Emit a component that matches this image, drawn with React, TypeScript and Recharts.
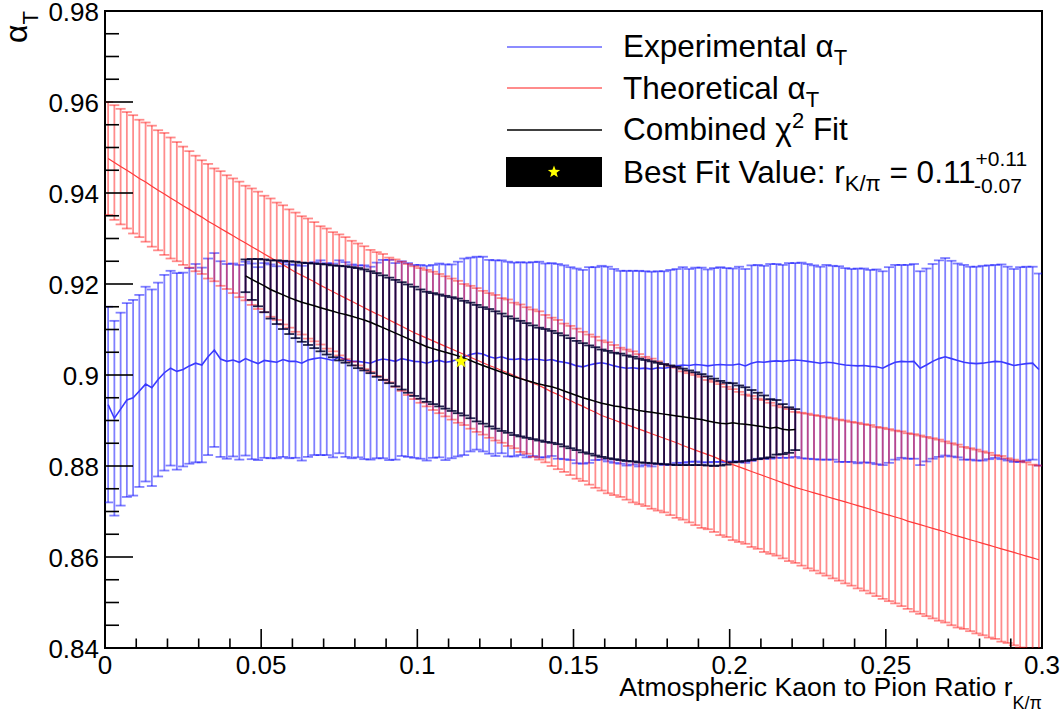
import React from "react";
import { ComposedChart, Line, ErrorBar, XAxis, YAxis, Scatter, ReferenceArea } from "recharts";

// ---------- data ----------
const BIN_START = 0.001;
const BIN_STEP = 0.002;
const BLACK_START = 0.045;

const X_MAJOR = [0, 0.05, 0.1, 0.15, 0.2, 0.25, 0.3];
const X_TICKS = [0, 0.01, 0.02, 0.03, 0.04, 0.05, 0.06, 0.07, 0.08, 0.09, 0.1, 0.11, 0.12, 0.13, 0.14, 0.15, 0.16, 0.17, 0.18, 0.19, 0.2, 0.21, 0.22, 0.23, 0.24, 0.25, 0.26, 0.27, 0.28, 0.29, 0.3];
const Y_MAJOR = [0.84, 0.86, 0.88, 0.9, 0.92, 0.94, 0.96, 0.98];
const Y_TICKS = [0.84, 0.845, 0.85, 0.855, 0.86, 0.865, 0.87, 0.875, 0.88, 0.885, 0.89, 0.895, 0.9, 0.905, 0.91, 0.915, 0.92, 0.925, 0.93, 0.935, 0.94, 0.945, 0.95, 0.955, 0.96, 0.965, 0.97, 0.975, 0.98];

const EXP_CENTER = [
  0.8935, 0.8905, 0.8925, 0.8945, 0.8950, 0.8965, 0.8980, 0.8972, 0.8990, 0.9005,
  0.9015, 0.9008, 0.9012, 0.9020, 0.9026, 0.9022, 0.9040, 0.9055, 0.9035, 0.9030,
  0.9033, 0.9028, 0.9036, 0.9030, 0.9025, 0.9032, 0.9030, 0.9028, 0.9034, 0.9030,
  0.9030, 0.9026, 0.9033, 0.9036, 0.9038, 0.9035, 0.9032, 0.9040, 0.9034, 0.9030,
  0.9030, 0.9028, 0.9026, 0.9032, 0.9035, 0.9033, 0.9030, 0.9036, 0.9033, 0.9030,
  0.9029, 0.9026, 0.9030, 0.9032, 0.9028, 0.9030, 0.9035, 0.9040, 0.9045, 0.9048,
  0.9046, 0.9040, 0.9037, 0.9040, 0.9035, 0.9034, 0.9036, 0.9033, 0.9035, 0.9034,
  0.9032, 0.9034, 0.9030, 0.9028, 0.9025, 0.9020, 0.9018, 0.9022, 0.9025, 0.9027,
  0.9024, 0.9020, 0.9017, 0.9015, 0.9016, 0.9014, 0.9015, 0.9013, 0.9016, 0.9015,
  0.9017, 0.9020, 0.9022, 0.9021, 0.9023, 0.9022, 0.9020, 0.9022, 0.9023, 0.9022,
  0.9022, 0.9024, 0.9020, 0.9026, 0.9029, 0.9028, 0.9030, 0.9031, 0.9030, 0.9032,
  0.9033, 0.9032, 0.9030, 0.9028, 0.9026, 0.9028, 0.9027, 0.9024, 0.9022, 0.9021,
  0.9020, 0.9021, 0.9019, 0.9018, 0.9015, 0.9022, 0.9028, 0.9030, 0.9029, 0.9030,
  0.9015, 0.9022, 0.9030, 0.9036, 0.9040, 0.9036, 0.9032, 0.9028, 0.9026, 0.9025,
  0.9026, 0.9028, 0.9030, 0.9029, 0.9025, 0.9021, 0.9023, 0.9025, 0.9026, 0.9012,
];
const EXP_ERR = [
  0.0215, 0.0214, 0.0212, 0.0213, 0.0215, 0.0211, 0.0214, 0.0216, 0.0213, 0.0215,
  0.0214, 0.0216, 0.0213, 0.0215, 0.0218, 0.0214, 0.0216, 0.0213, 0.0215, 0.0214,
  0.0212, 0.0214, 0.0213, 0.0215, 0.0212, 0.0214, 0.0213, 0.0211, 0.0214, 0.0213,
  0.0212, 0.0214, 0.0213, 0.0212, 0.0214, 0.0211, 0.0213, 0.0212, 0.0214, 0.0213,
  0.0211, 0.0213, 0.0212, 0.0215, 0.0218, 0.0220, 0.0216, 0.0214, 0.0213, 0.0212,
  0.0213, 0.0214, 0.0212, 0.0213, 0.0215, 0.0213, 0.0214, 0.0216, 0.0213, 0.0212,
  0.0214, 0.0213, 0.0215, 0.0212, 0.0214, 0.0213, 0.0212, 0.0214, 0.0213, 0.0215,
  0.0213, 0.0212, 0.0214, 0.0213, 0.0212, 0.0214, 0.0213, 0.0215, 0.0212, 0.0213,
  0.0214, 0.0213, 0.0212, 0.0214, 0.0213, 0.0215, 0.0213, 0.0214, 0.0212, 0.0213,
  0.0214, 0.0213, 0.0215, 0.0212, 0.0213, 0.0214, 0.0212, 0.0213, 0.0214, 0.0213,
  0.0212, 0.0214, 0.0213, 0.0215, 0.0213, 0.0212, 0.0214, 0.0213, 0.0212, 0.0214,
  0.0213, 0.0215, 0.0214, 0.0213, 0.0212, 0.0214, 0.0213, 0.0215, 0.0213, 0.0212,
  0.0214, 0.0213, 0.0212, 0.0214, 0.0213, 0.0215, 0.0214, 0.0212, 0.0213, 0.0214,
  0.0213, 0.0212, 0.0214, 0.0216, 0.0217, 0.0215, 0.0213, 0.0214, 0.0212, 0.0213,
  0.0214, 0.0213, 0.0212, 0.0214, 0.0213, 0.0212, 0.0214, 0.0213, 0.0212, 0.0211,
];

const THEO_CENTER = [
  0.9476, 0.9467, 0.9458, 0.9450, 0.9441, 0.9432, 0.9424, 0.9415, 0.9406, 0.9398,
  0.9389, 0.9381, 0.9372, 0.9364, 0.9355, 0.9347, 0.9338, 0.9330, 0.9322, 0.9314,
  0.9306, 0.9298, 0.9290, 0.9282, 0.9274, 0.9266, 0.9258, 0.9250, 0.9242, 0.9234,
  0.9226, 0.9219, 0.9212, 0.9205, 0.9197, 0.9190, 0.9183, 0.9176, 0.9169, 0.9162,
  0.9155, 0.9148, 0.9141, 0.9134, 0.9128, 0.9121, 0.9114, 0.9107, 0.9100, 0.9093,
  0.9087, 0.9081, 0.9075, 0.9069, 0.9063, 0.9057, 0.9051, 0.9045, 0.9039, 0.9033,
  0.9027, 0.9021, 0.9016, 0.9010, 0.9005, 0.8999, 0.8993, 0.8988, 0.8982, 0.8977,
  0.8970, 0.8963, 0.8957, 0.8950, 0.8944, 0.8937, 0.8931, 0.8924, 0.8918, 0.8911,
  0.8906, 0.8901, 0.8896, 0.8891, 0.8886, 0.8881, 0.8876, 0.8871, 0.8866, 0.8861,
  0.8856, 0.8851, 0.8845, 0.8840, 0.8835, 0.8830, 0.8825, 0.8820, 0.8814, 0.8809,
  0.8803, 0.8798, 0.8793, 0.8788, 0.8783, 0.8778, 0.8773, 0.8768, 0.8763, 0.8758,
  0.8753, 0.8749, 0.8745, 0.8741, 0.8737, 0.8733, 0.8729, 0.8725, 0.8721, 0.8717,
  0.8713, 0.8709, 0.8705, 0.8700, 0.8696, 0.8692, 0.8688, 0.8684, 0.8679, 0.8675,
  0.8671, 0.8667, 0.8663, 0.8659, 0.8655, 0.8650, 0.8646, 0.8642, 0.8638, 0.8634,
  0.8630, 0.8626, 0.8622, 0.8618, 0.8614, 0.8610, 0.8606, 0.8602, 0.8598, 0.8594,
];
const THEO_ERR = [
  0.0124, 0.0126, 0.0127, 0.0128, 0.0130, 0.0129, 0.0131, 0.0133, 0.0132, 0.0134,
  0.0133, 0.0131, 0.0130, 0.0128, 0.0127, 0.0125, 0.0126, 0.0124, 0.0126, 0.0125,
  0.0126, 0.0127, 0.0126, 0.0128, 0.0129, 0.0128, 0.0130, 0.0129, 0.0131, 0.0130,
  0.0131, 0.0130, 0.0132, 0.0131, 0.0130, 0.0132, 0.0131, 0.0133, 0.0134, 0.0133,
  0.0134, 0.0135, 0.0134, 0.0136, 0.0138, 0.0137, 0.0140, 0.0142, 0.0144, 0.0146,
  0.0148, 0.0150, 0.0152, 0.0153, 0.0154, 0.0155, 0.0156, 0.0155, 0.0157, 0.0158,
  0.0158, 0.0159, 0.0160, 0.0159, 0.0161, 0.0160, 0.0162, 0.0161, 0.0162, 0.0163,
  0.0162, 0.0163, 0.0164, 0.0163, 0.0164, 0.0165, 0.0164, 0.0165, 0.0166, 0.0165,
  0.0166, 0.0165, 0.0164, 0.0165, 0.0166, 0.0165, 0.0164, 0.0165, 0.0164, 0.0163,
  0.0164, 0.0165, 0.0163, 0.0164, 0.0165, 0.0166, 0.0164, 0.0165, 0.0166, 0.0165,
  0.0166, 0.0165, 0.0164, 0.0166, 0.0165, 0.0167, 0.0166, 0.0165, 0.0166, 0.0167,
  0.0166, 0.0168, 0.0170, 0.0171, 0.0173, 0.0174, 0.0176, 0.0177, 0.0179, 0.0180,
  0.0182, 0.0183, 0.0185, 0.0186, 0.0188, 0.0189, 0.0190, 0.0192, 0.0193, 0.0195,
  0.0196, 0.0197, 0.0198, 0.0199, 0.0199, 0.0200, 0.0201, 0.0200, 0.0201, 0.0202,
  0.0202, 0.0203, 0.0202, 0.0204, 0.0203, 0.0204, 0.0205, 0.0206, 0.0205, 0.0207,
];

const FIT_CENTER = [
  0.9218, 0.9210, 0.9203, 0.9196, 0.9188, 0.9182, 0.9176, 0.9170, 0.9165, 0.9160,
  0.9156, 0.9152, 0.9148, 0.9144, 0.9140, 0.9136, 0.9133, 0.9129, 0.9125, 0.9121,
  0.9116, 0.9110, 0.9104, 0.9098, 0.9092, 0.9086, 0.9080, 0.9074, 0.9068, 0.9062,
  0.9058, 0.9054, 0.9050, 0.9046, 0.9042, 0.9037, 0.9032, 0.9026, 0.9021, 0.9016,
  0.9011, 0.9006, 0.9001, 0.8996, 0.8992, 0.8988, 0.8984, 0.8980, 0.8977, 0.8974,
  0.8970, 0.8965, 0.8960, 0.8955, 0.8950, 0.8946, 0.8942, 0.8938, 0.8935, 0.8932,
  0.8930, 0.8927, 0.8925, 0.8922, 0.8920, 0.8918, 0.8916, 0.8914, 0.8912, 0.8910,
  0.8908, 0.8906, 0.8904, 0.8902, 0.8899, 0.8896, 0.8894, 0.8893, 0.8895, 0.8893,
  0.8892, 0.8890, 0.8888, 0.8886, 0.8883, 0.8885, 0.8881, 0.8879, 0.8880,
];
const FIT_ERR = [
  0.0036, 0.0045, 0.0052, 0.0058, 0.0064, 0.0070, 0.0075, 0.0080, 0.0084, 0.0087,
  0.0090, 0.0093, 0.0096, 0.0099, 0.0101, 0.0104, 0.0106, 0.0108, 0.0110, 0.0111,
  0.0112, 0.0114, 0.0115, 0.0116, 0.0117, 0.0118, 0.0119, 0.0120, 0.0120, 0.0121,
  0.0122, 0.0123, 0.0124, 0.0125, 0.0126, 0.0126, 0.0127, 0.0128, 0.0128, 0.0129,
  0.0129, 0.0129, 0.0128, 0.0128, 0.0127, 0.0126, 0.0125, 0.0124, 0.0124, 0.0123,
  0.0122, 0.0122, 0.0121, 0.0120, 0.0120, 0.0119, 0.0119, 0.0118, 0.0118, 0.0117,
  0.0117, 0.0116, 0.0115, 0.0114, 0.0113, 0.0112, 0.0111, 0.0110, 0.0109, 0.0108,
  0.0106, 0.0104, 0.0102, 0.0100, 0.0098, 0.0096, 0.0093, 0.0090, 0.0087, 0.0084,
  0.0081, 0.0077, 0.0073, 0.0069, 0.0064, 0.0060, 0.0055, 0.0050, 0.0045,
];

const BEST_FIT = [{ x: 0.114, y: 0.903 }];

// ---------- tables for the library ----------
const r4 = (v: number) => Math.round(v * 10000) / 10000;
const expData = EXP_CENTER.map((y, i) => ({ x: r4(BIN_START + i * BIN_STEP), y, e: EXP_ERR[i] }));
const theoData = THEO_CENTER.map((y, i) => ({ x: r4(BIN_START + i * BIN_STEP), y, e: THEO_ERR[i] }));
const fitData = FIT_CENTER.map((y, i) => ({ x: r4(BLACK_START + i * BIN_STEP), y, e: FIT_ERR[i] }));

// ---------- style ----------
const FONT = "'Liberation Sans', Arial, Helvetica, sans-serif";
const W = 1064;
const H = 713;
const PL = 105;
const PR = 1042;
const PT = 11;
const PB = 648;

const isMajor = (v: number, list: number[]) => list.some((m) => Math.abs(m - v) < 1e-9);
const fmt = (v: number) => String(Number(v.toFixed(3)));

const YTick = (props: any) => {
  const { y, payload } = props;
  const major = isMajor(payload.value, Y_MAJOR);
  return (
    <g>
      <line x1={PL} x2={PL + (major ? 28 : 14)} y1={y} y2={y} stroke="#000" strokeWidth={1.6} />
      {major && (
        <text x={99} y={y + 10} textAnchor="end" fontSize={26} fontFamily={FONT} fill="#000">
          {fmt(payload.value)}
        </text>
      )}
    </g>
  );
};

const XTick = (props: any) => {
  const { x, payload } = props;
  const major = isMajor(payload.value, X_MAJOR);
  return (
    <g>
      <line x1={x} x2={x} y1={PB} y2={PB - (major ? 19 : 9.5)} stroke="#000" strokeWidth={1.6} />
      {major && (
        <text x={x} y={674} textAnchor="middle" fontSize={26} fontFamily={FONT} fill="#000">
          {fmt(payload.value)}
        </text>
      )}
    </g>
  );
};

const starPoints = (cx: number, cy: number, R: number) => {
  const pts: string[] = [];
  for (let k = 0; k < 10; k++) {
    const rad = k % 2 === 0 ? R : R * 0.42;
    const a = -Math.PI / 2 + (k * Math.PI) / 5;
    pts.push(`${cx + rad * Math.cos(a)},${cy + rad * Math.sin(a)}`);
  }
  return pts.join(" ");
};

const StarShape = (props: any) => {
  const { cx, cy } = props;
  return <polygon points={starPoints(cx, cy, 7)} fill="#ffff00" stroke="#e0e000" strokeWidth={0.5} />;
};

const CSS = `.recharts-errorBars, .recharts-errorBar { clip-path: url(#plotClip); }`;

export default function App() {
  return (
    <div style={{ position: "absolute", left: 0, top: 0, width: W, height: H, background: "#fff", fontFamily: FONT }}>
      <style>{CSS}</style>
      <svg width={0} height={0} style={{ position: "absolute" }}>
        <defs>
          <clipPath id="plotClip" clipPathUnits="userSpaceOnUse">
            <rect x={PL} y={PT} width={PR - PL} height={PB - PT} />
          </clipPath>
        </defs>
      </svg>
      <ComposedChart width={W} height={H} margin={{ top: PT, right: W - PR, bottom: H - PB - 1, left: PL - 1 }}>
        <XAxis
          type="number"
          dataKey="x"
          domain={[0, 0.3]}
          ticks={X_TICKS}
          interval={0}
          allowDataOverflow
          axisLine={false}
          tickLine={false}
          height={1}
          tick={(p: any) => <XTick {...p} />}
        />
        <YAxis
          type="number"
          domain={[0.84, 0.98]}
          ticks={Y_TICKS}
          interval={0}
          allowDataOverflow
          axisLine={false}
          tickLine={false}
          width={1}
          tick={(p: any) => <YTick {...p} />}
        />
        <Line data={expData} dataKey="y" stroke="#3a3aff" strokeWidth={1.6} dot={false} isAnimationActive={false}>
          <ErrorBar dataKey="e" direction="y" width={5} stroke="#0000ff" strokeOpacity={0.5} strokeWidth={1.8} isAnimationActive={false} />
        </Line>
        <Line data={theoData} dataKey="y" stroke="#ff3a3a" strokeWidth={1.2} dot={false} isAnimationActive={false}>
          <ErrorBar dataKey="e" direction="y" width={5} stroke="#ff0000" strokeOpacity={0.45} strokeWidth={1.8} isAnimationActive={false} />
        </Line>
        <Line data={fitData} dataKey="y" stroke="#000" strokeWidth={1.5} dot={false} isAnimationActive={false}>
          <ErrorBar dataKey="e" direction="y" width={5} stroke="#000030" strokeOpacity={0.85} strokeWidth={1.8} isAnimationActive={false} />
        </Line>
        <Scatter data={BEST_FIT} dataKey="y" shape={(p: any) => <StarShape {...p} />} isAnimationActive={false} />
        <ReferenceArea x1={0} x2={0.3} y1={0.84} y2={0.98} fill="none" stroke="#000" strokeWidth={2} ifOverflow="visible" />
      </ComposedChart>

      <svg width={W} height={H} style={{ position: "absolute", left: 0, top: 0, pointerEvents: "none" }} fontFamily={FONT}>
        {/* y-axis title */}
        <text transform="translate(27,11) rotate(-90)" textAnchor="end" fontSize={32} fill="#000">
          α<tspan fontSize={22} dy={11}>T</tspan>
        </text>
        {/* x-axis title */}
        <text x={1042} y={696} textAnchor="end" fontSize={26.6} fill="#000">
          Atmospheric Kaon to Pion Ratio r<tspan fontSize={18} dy={13}>K/π</tspan>
        </text>
        {/* legend */}
        <line x1={507} x2={602} y1={47} y2={47} stroke="#6666ff" strokeWidth={1.5} />
        <line x1={507} x2={602} y1={88} y2={88} stroke="#ff6666" strokeWidth={1.5} />
        <line x1={507} x2={602} y1={130} y2={130} stroke="#000" strokeWidth={1.5} />
        <rect x={506} y={157} width={96} height={30} fill="#000" />
        <polygon points={starPoints(554, 172, 6.5)} fill="#ffff00" />
        <text x={623} y={57} fontSize={31.5} fill="#000">
          Experimental α<tspan fontSize={22} dy={8}>T</tspan>
        </text>
        <text x={623} y={99} fontSize={31.5} fill="#000">
          Theoretical α<tspan fontSize={22} dy={8}>T</tspan>
        </text>
        <text x={623} y={140} fontSize={31.5} fill="#000">
          Combined χ<tspan fontSize={22} dy={-12}>2</tspan>
          <tspan dy={12}> Fit</tspan>
        </text>
        <text x={623} y={183} fontSize={31.5} fill="#000">
          Best Fit Value: r<tspan fontSize={22} dy={8}>K/π</tspan>
          <tspan dy={-8}> = 0.11</tspan>
          <tspan fontSize={21} dy={-17}>+0.11</tspan>
          <tspan fontSize={21} dx={-53.1} dy={27}>-0.07</tspan>
        </text>
      </svg>
    </div>
  );
}
